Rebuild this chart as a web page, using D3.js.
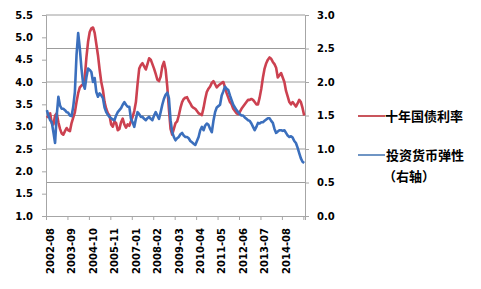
<!DOCTYPE html>
<html>
<head>
<meta charset="utf-8">
<script src="https://cdn.jsdelivr.net/npm/d3@7"></script>
<style>
  body { margin: 0; background: #fff; }
  .tick-lbl { font-family: "DejaVu Sans", sans-serif; font-weight: bold; font-size: 10px; fill: #000; }
  .legend { font-family: "Noto Sans CJK SC", sans-serif; font-weight: bold; font-size: 13px; fill: #000; }
</style>
</head>
<body>
<div class="container"></div>
<script>
// x labels shown every 13 months, starting 2002-08
var tickLabels = ["2002-08","2003-09","2004-10","2005-11","2007-01","2008-02","2009-03","2010-04","2011-05","2012-06","2013-07","2014-08"];

// 十年国债利率 (left axis), monthly
var bondYield = [
  3.20,3.25,3.30,3.08,3.05,3.25,3.30,3.10,2.95,2.85,
  2.82,2.90,2.97,2.92,2.90,3.08,3.20,3.32,3.55,3.75,
  3.88,3.92,3.95,4.10,4.55,4.90,5.12,5.20,5.22,5.10,
  4.85,4.60,4.28,4.00,3.82,3.55,3.40,3.30,3.25,3.05,
  3.00,3.12,3.08,2.92,2.95,3.10,3.18,3.05,2.98,3.05,
  3.02,3.12,3.22,3.35,3.55,3.95,4.30,4.38,4.42,4.35,
  4.28,4.40,4.53,4.50,4.40,4.30,4.18,4.05,4.02,4.12,
  4.35,4.45,4.28,3.90,3.40,2.95,2.82,2.95,3.08,3.12,
  3.25,3.42,3.55,3.62,3.65,3.66,3.58,3.52,3.45,3.42,
  3.40,3.35,3.30,3.28,3.26,3.42,3.62,3.78,3.85,3.90,
  3.98,4.02,3.95,3.88,3.92,3.95,3.98,4.00,3.88,3.75,
  3.65,3.55,3.50,3.40,3.35,3.30,3.28,3.33,3.40,3.45,
  3.50,3.55,3.60,3.60,3.62,3.60,3.55,3.50,3.50,3.65,
  3.85,4.10,4.30,4.42,4.50,4.55,4.52,4.45,4.40,4.32,
  4.10,4.15,4.20,4.10,4.00,3.80,3.68,3.55,3.50,3.55,
  3.50,3.45,3.52,3.60,3.55,3.42,3.25
];

// 投资货币弹性 (right axis), monthly
var elasticity = [
  1.58,1.50,1.43,1.40,1.25,1.09,1.50,1.78,1.65,1.60,
  1.60,1.58,1.55,1.54,1.50,1.49,1.63,1.85,2.40,2.73,
  2.50,2.20,1.98,1.90,2.07,2.20,2.18,2.15,2.00,2.06,
  1.85,1.78,1.83,1.80,1.76,1.62,1.55,1.51,1.48,1.46,
  1.44,1.43,1.50,1.55,1.58,1.61,1.66,1.70,1.66,1.63,
  1.63,1.45,1.40,1.33,1.45,1.55,1.52,1.48,1.48,1.45,
  1.43,1.46,1.48,1.45,1.43,1.50,1.55,1.50,1.45,1.55,
  1.66,1.75,1.81,1.84,1.76,1.43,1.25,1.18,1.13,1.16,
  1.18,1.22,1.24,1.20,1.18,1.18,1.16,1.12,1.10,1.08,
  1.06,1.12,1.18,1.28,1.33,1.28,1.35,1.38,1.36,1.30,
  1.25,1.42,1.55,1.62,1.64,1.66,1.80,1.86,1.93,1.90,
  1.88,1.80,1.73,1.66,1.62,1.58,1.55,1.52,1.50,1.50,
  1.47,1.45,1.43,1.42,1.38,1.33,1.28,1.33,1.39,1.38,
  1.40,1.40,1.42,1.44,1.46,1.46,1.42,1.39,1.30,1.24,
  1.26,1.28,1.28,1.27,1.28,1.24,1.20,1.18,1.19,1.17,
  1.12,1.09,1.02,0.94,0.86,0.81,0.79
];

var leftTicks = [1.0,1.5,2.0,2.5,3.0,3.5,4.0,4.5,5.0,5.5];
var rightTicks = [0.0,0.5,1.0,1.5,2.0,2.5,3.0];

var W = 481, H = 289;
var plot = {left: 46, right: 305, top: 15, bottom: 216};

var svg = d3.select(".container")
  .append("svg")
    .attr("width", W)
    .attr("height", H);

var n = bondYield.length;
var x = d3.scaleLinear().domain([0, n]).range([plot.left, plot.right]);
var yL = d3.scaleLinear().domain([1.0, 5.5]).range([plot.bottom, plot.top]);
var yR = d3.scaleLinear().domain([0, 3.0]).range([plot.bottom, plot.top]);

// gridlines follow the right axis
svg.append("g")
  .selectAll("line")
  .data(rightTicks.slice(1))
  .enter()
  .append("line")
    .attr("x1", plot.left)
    .attr("x2", plot.right)
    .attr("y1", function(d) { return yR(d); })
    .attr("y2", function(d) { return yR(d); })
    .attr("stroke", "#9c9c9c")
    .attr("stroke-width", 1);

// left axis
var gl = svg.append("g")
  .attr("transform", "translate(" + plot.left + ",0)")
  .call(d3.axisLeft(yL).tickValues(leftTicks).tickFormat(d3.format(".1f")).tickSize(4).tickPadding(9));
// right axis
var gr = svg.append("g")
  .attr("transform", "translate(" + plot.right + ",0)")
  .call(d3.axisRight(yR).tickValues(rightTicks).tickFormat(d3.format(".1f")).tickSize(4).tickPadding(8));
// bottom axis, a tick every 13 months
var gb = svg.append("g")
  .attr("transform", "translate(0," + plot.bottom + ")")
  .call(d3.axisBottom(x).tickValues(d3.range(0, n + 1, 13)).tickSize(4).tickFormat(""));

[gl, gr, gb].forEach(function(g) {
  g.select(".domain").attr("stroke", "#a6a6a6");
  g.selectAll(".tick line").attr("stroke", "#a6a6a6");
  g.selectAll("text").attr("class", "tick-lbl").attr("font-size", null).attr("font-family", null);
});

// rotated month labels
svg.append("g")
  .selectAll("text")
  .data(tickLabels)
  .enter()
  .append("text")
    .attr("class", "tick-lbl")
    .attr("text-anchor", "end")
    .attr("dy", "0.35em")
    .attr("transform", function(d, i) {
      return "translate(" + (x(i * 13 + 0.5) + 3.5) + "," + (plot.bottom + 12) + ") rotate(-90)";
    })
    .text(function(d) { return d; });

var lineL = d3.line()
  .x(function(d, i) { return x(i + 0.5); })
  .y(function(d) { return yL(d); });
var lineR = d3.line()
  .x(function(d, i) { return x(i + 0.5); })
  .y(function(d) { return yR(d); });

var red = "#cc4150", blue = "#3b6fbd";

svg.append("path")
  .datum(bondYield)
  .attr("d", lineL)
  .attr("fill", "none")
  .attr("stroke", red)
  .attr("stroke-width", 2.6)
  .attr("stroke-linejoin", "round");

svg.append("path")
  .datum(elasticity)
  .attr("d", lineR)
  .attr("fill", "none")
  .attr("stroke", blue)
  .attr("stroke-width", 2.6)
  .attr("stroke-linejoin", "round");

// legend
var legend = svg.append("g");
legend.append("line")
  .attr("x1", 358).attr("x2", 385).attr("y1", 116).attr("y2", 116)
  .attr("stroke", "#c9555c").attr("stroke-width", 2);
legend.append("text")
  .attr("class", "legend")
  .attr("x", 385).attr("y", 116).attr("dy", "0.36em")
  .text("十年国债利率");
legend.append("line")
  .attr("x1", 358).attr("x2", 385).attr("y1", 155).attr("y2", 155)
  .attr("stroke", "#6f95c4").attr("stroke-width", 2);
legend.append("text")
  .attr("class", "legend")
  .attr("x", 386).attr("y", 155).attr("dy", "0.36em")
  .text("投资货币弹性");
legend.append("text")
  .attr("class", "legend")
  .attr("x", 383).attr("y", 176).attr("dy", "0.36em")
  .text("（右轴）");
</script>
</body>
</html>
